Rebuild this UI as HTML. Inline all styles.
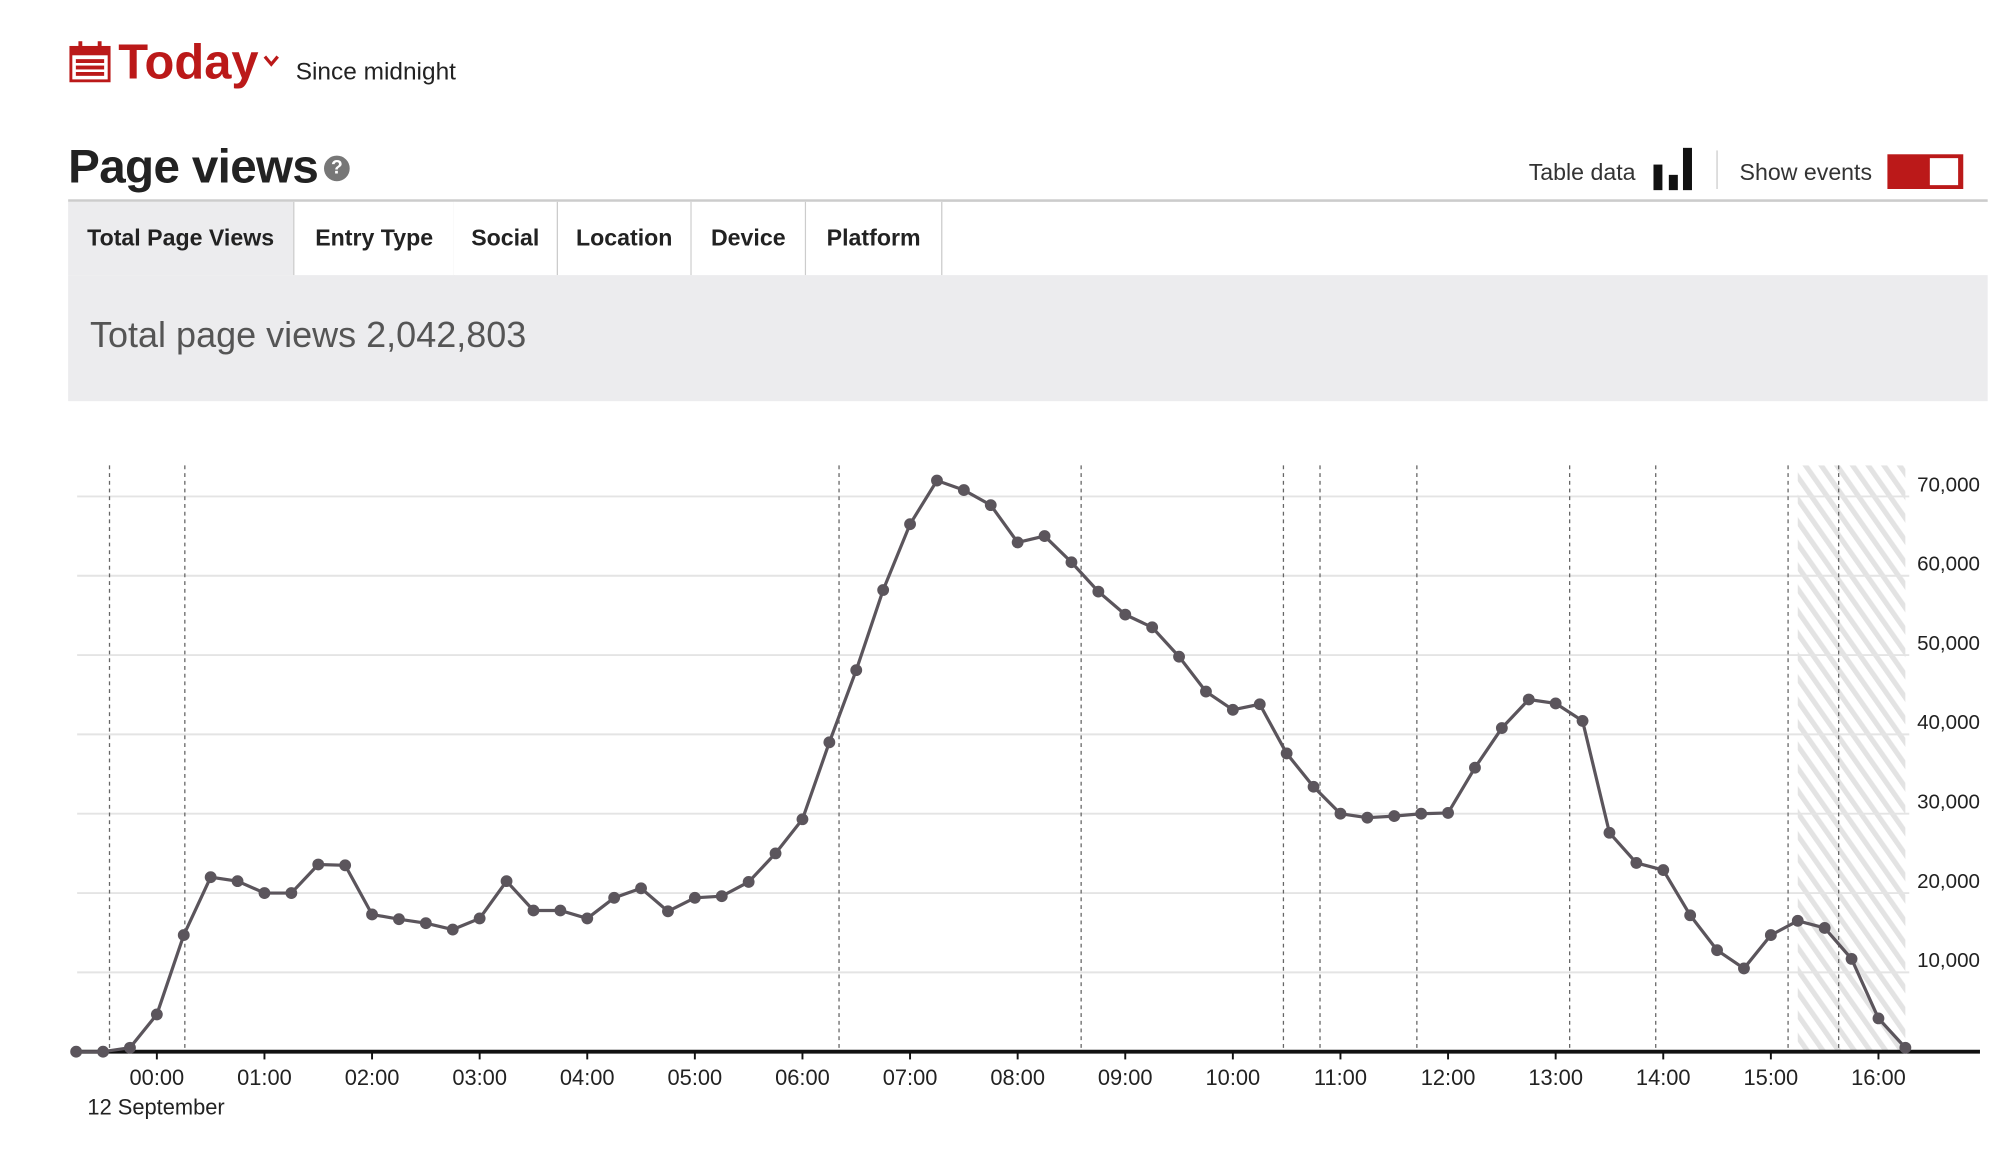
<!DOCTYPE html>
<html><head><meta charset="utf-8">
<style>
html,body{margin:0;padding:0;background:#fff;width:2016px;height:1162px;overflow:hidden}
#wrap{position:absolute;left:0;top:0;width:1568px;height:904px;transform:scale(1.2857);transform-origin:0 0;font-family:"Liberation Sans",sans-serif;color:#222}
.abs{position:absolute}
.tab{position:absolute;top:157px;height:57px;line-height:57px;font-weight:bold;font-size:18px;text-align:center;border-right:1px solid #ccc;background:#fff;color:#222}
</style></head><body>
<div id="wrap">
  <svg class="abs" style="left:54px;top:32px" width="32" height="32">
    <rect x="1" y="5" width="30" height="26" fill="none" stroke="#bb1919" stroke-width="2.5"/>
    <rect x="1" y="5" width="30" height="6" fill="#bb1919"/>
    <rect x="7" y="0" width="3" height="7" fill="#bb1919"/><rect x="22" y="0" width="3" height="7" fill="#bb1919"/>
    <g fill="#bb1919"><rect x="5" y="14" width="22" height="3"/><rect x="5" y="19" width="22" height="3"/><rect x="5" y="24" width="22" height="3"/></g>
  </svg>
  <div class="abs" style="left:92px;top:28px;font-size:38px;font-weight:bold;color:#bb1919">Today</div>
  <svg class="abs" style="left:204px;top:42px" width="14" height="11"><path d="M2 2 L7 8 L12 2" stroke="#bb1919" stroke-width="2.5" fill="none"/></svg>
  <div class="abs" style="left:230px;top:46px;font-size:19px;color:#222">Since midnight</div>

  <div class="abs" style="left:53px;top:109px;font-size:37px;font-weight:bold;color:#222;letter-spacing:-0.5px">Page views</div>
  <div class="abs" style="left:252px;top:121px;width:20px;height:20px;border-radius:50%;background:#777;color:#fff;font-size:15px;font-weight:bold;text-align:center;line-height:20px">?</div>

  <div class="abs" style="left:1189px;top:124px;font-size:18px;color:#333">Table data</div>
  <svg class="abs" style="left:1286px;top:113px" width="32" height="35">
    <rect x="0" y="15" width="7" height="20" fill="#111"/><rect x="12" y="23" width="7" height="12" fill="#111"/><rect x="23" y="2" width="7" height="33" fill="#111"/>
  </svg>
  <div class="abs" style="left:1335px;top:117px;width:1px;height:30px;background:#ccc"></div>
  <div class="abs" style="left:1353px;top:124px;font-size:18px;color:#333">Show events</div>
  <div class="abs" style="left:1468px;top:120px;width:59px;height:27px;background:#bb1919">
    <div class="abs" style="left:33px;top:3px;width:22px;height:21px;background:#fff"></div>
  </div>

  <div class="abs" style="left:53px;top:155px;width:1493px;height:2px;background:#ccc"></div>
  <div class="tab" style="left:53px;width:175px;background:#ececee">Total Page Views</div>
  <div class="tab" style="left:228px;width:124px;border-left:1px solid #ccc">Entry Type</div>
  <div class="tab" style="left:353px;width:80px">Social</div>
  <div class="tab" style="left:434px;width:103px">Location</div>
  <div class="tab" style="left:538px;width:88px">Device</div>
  <div class="tab" style="left:627px;width:105px">Platform</div>

  <div class="abs" style="left:53px;top:214px;width:1493px;height:98px;background:#ececee">
    <div class="abs" style="left:17px;top:31px;font-size:28px;color:#555">Total page views 2,042,803</div>
  </div>

  <svg id="chart" class="abs" style="left:0;top:330px" width="1560" height="570">
    <defs><pattern id="hatch" width="10" height="10" patternUnits="userSpaceOnUse" patternTransform="rotate(-35)"><rect width="4" height="10" fill="#e3e3e3"/></pattern></defs>
  </svg>
</div>
<script>
const hours = [-0.75,-0.5,-0.25,0,0.25,0.5,0.75,1,1.25,1.5,1.75,2,2.25,2.5,2.75,3,3.25,3.5,3.75,4,4.25,4.5,4.75,5,5.25,5.5,5.75,6,6.25,6.5,6.75,7,7.25,7.5,7.75,8,8.25,8.5,8.75,9,9.25,9.5,9.75,10,10.25,10.5,10.75,11,11.25,11.5,11.75,12,12.25,12.5,12.75,13,13.25,13.5,13.75,14,14.25,14.5,14.75,15,15.25,15.5,15.75,16,16.25];
const views = [0,0,500,4700,14700,22000,21500,20000,20000,23600,23500,17300,16700,16200,15400,16800,21500,17800,17800,16800,19400,20600,17700,19400,19600,21400,25000,29300,39000,48100,58200,66500,72000,70800,68900,64200,65000,61700,58000,55100,53500,49800,45400,43100,43800,37600,33400,30000,29500,29700,30000,30100,35800,40800,44400,43900,41700,27600,23800,22900,17200,12800,10500,14700,16500,15600,11700,4200,500];
const yTicks = [10000,20000,30000,40000,50000,60000,70000];
const xTickHours = [0,1,2,3,4,5,6,7,8,9,10,11,12,13,14,15,16];
const eventHours = [-0.44,0.26,6.34,8.59,10.47,10.81,11.71,13.13,13.93,15.16,15.63];
const partialStart = 15.25, partialEnd = 16.25;

const svg = document.getElementById('chart');
const NS = 'http://www.w3.org/2000/svg';
const OY = 330;
const x = h => 122 + h * 83.69;
const y = v => 818 - OY - v / 10000 * 61.7;
function mk(tag, attrs){const e=document.createElementNS(NS,tag);for(const k in attrs)e.setAttribute(k,attrs[k]);svg.appendChild(e);return e;}

const hz = mk('rect',{x:x(partialStart),y:362-OY,width:x(partialEnd)-x(partialStart),height:818-362,fill:'url(#hatch)'});



yTicks.forEach(v=>{
  const g = mk('line',{x1:60,x2:1485,y1:y(v),y2:y(v),stroke:'#e4e4e4','stroke-width':1.5});
  
  
  const t = mk('text',{x:1540,y:y(v)-4,'text-anchor':'end','font-size':16,fill:'#222','font-family':'Liberation Sans, sans-serif'});
  t.textContent = v.toLocaleString('en-US');
  
  
});

eventHours.forEach(h=>{
  const l = mk('line',{x1:x(h),x2:x(h),y1:362-OY,y2:818-OY,stroke:'#666','stroke-width':1,'stroke-dasharray':'3,3'});
  
  
});

const ax = mk('line',{x1:55,x2:1540,y1:818-OY,y2:818-OY,stroke:'#111','stroke-width':3});



xTickHours.forEach(h=>{
  const tk = mk('line',{x1:x(h),x2:x(h),y1:818-OY,y2:824-OY,stroke:'#111','stroke-width':1.5});
  
  
  const t = mk('text',{x:x(h),y:844-OY,'text-anchor':'middle','font-size':17,fill:'#222','font-family':'Liberation Sans, sans-serif'});
  t.textContent = String(h).padStart(2,'0')+':00';
  
  
});
const dl = mk('text',{x:68,y:867-OY,'font-size':17,fill:'#222','font-family':'Liberation Sans, sans-serif'});
dl.textContent='12 September';



const pts = hours.map((h,i)=>x(h)+','+y(views[i])).join(' ');
const pl = mk('polyline',{points:pts,fill:'none',stroke:'#5b555c','stroke-width':2.5});


hours.forEach((h,i)=>{
  const c = mk('circle',{cx:x(h),cy:y(views[i]),r:4.6,fill:'#5b555c'});
  
  
});
</script>
</body></html>
